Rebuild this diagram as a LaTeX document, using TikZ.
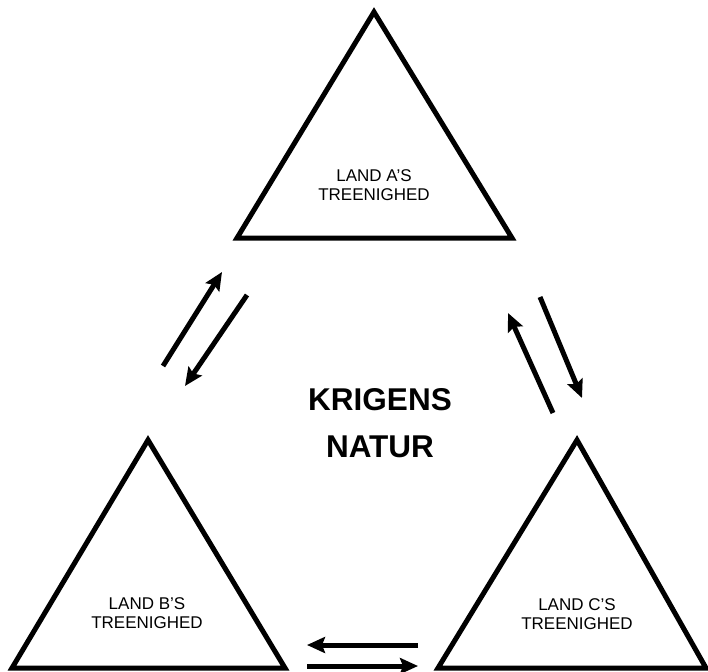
\documentclass[tikz,border=0pt]{standalone}
\usepackage{fontspec}
\setmainfont{Liberation Sans}
\usetikzlibrary{arrows.meta}
\begin{document}
\begin{tikzpicture}[x=1pt,y=-1pt,
  tri/.style={line width=5pt, line join=miter},
  lbl/.style={align=center, font=\fontsize{17}{19}\selectfont, inner sep=0pt},
  title/.style={align=center, font=\fontsize{31.5}{47}\selectfont\bfseries, inner sep=0pt},
  arr/.style={line width=5pt, -{Stealth[length=18pt,width=16pt,inset=3pt]}}]
\useasboundingbox (0,0) rectangle (708,671);
% triangles
\draw[tri] (237,238) -- (374,12) -- (512,238) -- cycle;
\draw[tri] (12,668) -- (148,440) -- (285,668) -- cycle;
\draw[tri] (438,668) -- (577,440) -- (706,668) -- cycle;
% labels
\node[lbl] (a) at (374,185) {LAND A’S\\TREENIGHED};
\node[lbl] (b) at (147,613) {LAND B’S\\TREENIGHED};
\node[lbl] (c) at (577,614) {LAND C’S\\TREENIGHED};
\node[title] (k) at (380,423) {KRIGENS\\NATUR};
% arrow end points
\coordinate (ab1) at (163,366); \coordinate (ab2) at (222,272);
\coordinate (ba1) at (247,295); \coordinate (ba2) at (185,386);
\coordinate (ca1) at (553,413); \coordinate (ca2) at (508,313);
\coordinate (ac1) at (540,297); \coordinate (ac2) at (582,398);
\coordinate (cb1) at (418,645); \coordinate (cb2) at (307,645);
\coordinate (bc1) at (307,666); \coordinate (bc2) at (418,666);
\draw[arr] (ab1) -- (ab2);
\draw[arr] (ba1) -- (ba2);
\draw[arr] (ca1) -- (ca2);
\draw[arr] (ac1) -- (ac2);
\draw[arr] (cb1) -- (cb2);
\draw[arr] (bc1) -- (bc2);
\end{tikzpicture}
\end{document}
